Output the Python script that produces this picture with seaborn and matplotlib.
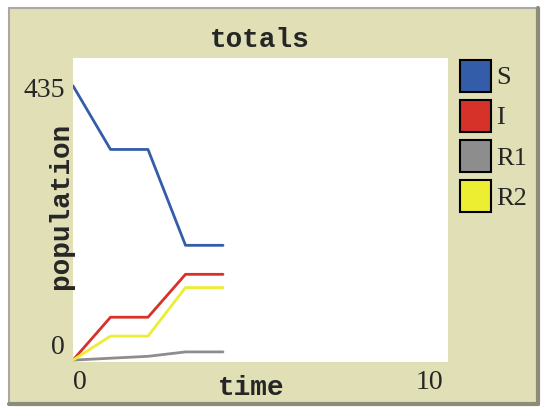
import numpy as np
import pandas as pd
import matplotlib
matplotlib.use("Agg")
import matplotlib.pyplot as plt
from matplotlib.patches import Rectangle, Patch
from matplotlib.lines import Line2D
import matplotlib.transforms as mtransforms
import seaborn as sns

# data
time = [0, 1, 2, 3, 4]
S = [435, 334, 334, 182, 182]
I = [0, 68, 68, 136, 136]
R1 = [0, 3, 6, 13, 13]
R2 = [0, 38, 38, 115, 115]

series_names = ["S", "I", "R1", "R2"]
series_colors = ["#345DA9", "#D73229", "#8D8D8D", "#EDED31"]
y_ticks = [0, 435]
y_tick_labels = ["0", "435"]
x_ticks = [0, 10]
x_tick_labels = ["0", "10"]

BEIGE = "#E0DFB6"
W, H = 550, 418

df = pd.DataFrame({"time": time, "S": S, "I": I, "R1": R1, "R2": R2})
long_df = df.melt(id_vars="time", var_name="breed", value_name="count")

sns.set_theme(style="white")
plt.rcParams["font.family"] = ["Liberation Serif", "DejaVu Serif"]

fig = plt.figure(figsize=(W / 100, H / 100), dpi=100)
fig.patch.set_facecolor("white")

def px(x, y):
    return x / W, 1 - y / H

# plot widget frame (beige panel with bevelled border)
x0, y0 = px(9, 404)
x1, y1 = px(538, 8)
fig.patches.append(Rectangle((x0, y0), x1 - x0, y1 - y0, transform=fig.transFigure,
                             facecolor=BEIGE, edgecolor="#A8A8A8", lw=1.5, zorder=0))
fig.add_artist(Line2D([x0, x1], [y0, y0], transform=fig.transFigure, color="#8C8C78", lw=3, zorder=0.5))
fig.add_artist(Line2D([x1, x1], [y0, y1], transform=fig.transFigure, color="#8C8C78", lw=3, zorder=0.5))

# white plotting area
left, bottom = px(73, 362)
right, top = px(448, 58)
ax = fig.add_axes([left, bottom, right - left, top - bottom])
ax.set_zorder(2)
ax.set_facecolor("white")

sns.lineplot(data=long_df, x="time", y="count", hue="breed",
             palette=dict(zip(series_names, series_colors)),
             hue_order=series_names, ax=ax, legend=False, linewidth=2)

ax.set_xlim(0, 10)
ax.set_ylim(-3, 479)
for s in ax.spines.values():
    s.set_visible(False)

ax.set_yticks(y_ticks)
ax.set_yticklabels(y_tick_labels, fontsize=20)
ax.set_xticks(x_ticks)
ax.set_xticklabels(x_tick_labels, fontsize=20)
ax.tick_params(axis="both", length=0, pad=6)
ax.get_yticklabels()[0].set_verticalalignment("bottom")
top_lbl = ax.get_yticklabels()[1]
top_lbl.set_verticalalignment("center")
top_lbl.set_transform(top_lbl.get_transform() + mtransforms.ScaledTranslation(0, -0.05, fig.dpi_scale_trans))
ax.get_xticklabels()[0].set_horizontalalignment("left")
ten = ax.get_xticklabels()[1]
ten.set_horizontalalignment("right")
ten.set_transform(ten.get_transform() + mtransforms.ScaledTranslation(-0.05, 0, fig.dpi_scale_trans))
ax.set_xlabel("")
ax.set_ylabel("")

mono = {"family": ["Liberation Mono", "DejaVu Sans Mono"], "weight": "bold", "size": 20}
fig.text(*px(260, 40), "totals", ha="center", va="center", fontdict=mono)
fig.text(*px(251, 388), "time", ha="center", va="center", fontdict=mono)
fig.text(*px(61, 206), "population", ha="center", va="center", rotation=90, fontdict=mono)

handles = [Patch(facecolor=c, edgecolor="black", lw=1.5) for c in series_colors]
fig.legend(handles, series_names, loc="upper left", bbox_to_anchor=px(449, 49),
           frameon=False, fontsize=19, handlelength=1.2, handleheight=1.5,
           labelspacing=0.3, handletextpad=0.2, borderaxespad=0)

fig.savefig("out.png", dpi=100, facecolor=fig.get_facecolor())
